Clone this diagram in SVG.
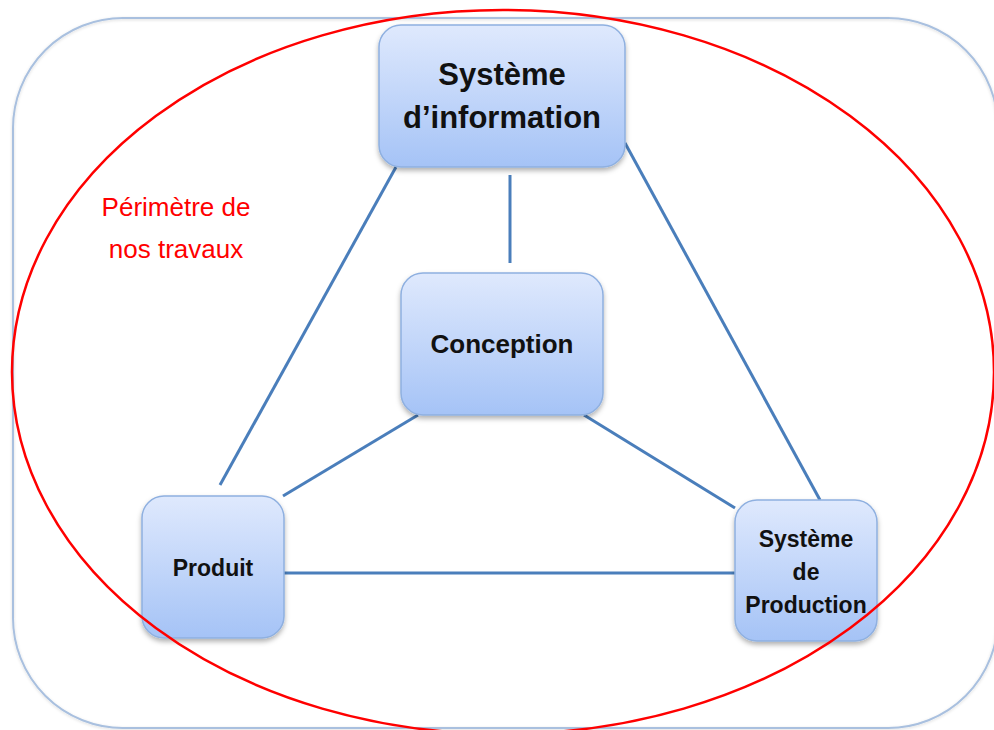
<svg xmlns="http://www.w3.org/2000/svg" width="994" height="730" viewBox="0 0 994 730">
  <defs>
    <linearGradient id="nodeFill" x1="0" y1="0" x2="0" y2="1">
      <stop offset="0" stop-color="#dfe9fd"/>
      <stop offset="1" stop-color="#a5c3f6"/>
    </linearGradient>
    <filter id="shadow" x="-10%" y="-10%" width="120%" height="125%">
      <feDropShadow dx="0" dy="3" stdDeviation="2.5" flood-color="#000" flood-opacity="0.3"/>
    </filter>
    <filter id="soft" x="-5%" y="-5%" width="110%" height="110%">
      <feDropShadow dx="0" dy="1" stdDeviation="1.5" flood-color="#000" flood-opacity="0.15"/>
    </filter>
  </defs>
  <style>
    .node { fill: url(#nodeFill); stroke: #8fb0e0; stroke-width: 1.5; filter: url(#shadow); }
    .label { font-family: "Liberation Sans", Arial, sans-serif; font-weight: bold; fill: #111; text-anchor: middle; }
    .conn { stroke: #4a7ebb; stroke-width: 3; fill: none; stroke-linecap: butt; }
    .note { font-family: "Liberation Sans", Arial, sans-serif; font-size: 26px; fill: #ff0000; text-anchor: middle; }
  </style>
  <rect width="994" height="730" fill="#ffffff"/>
  <rect id="frame" x="13" y="18" width="985" height="710" rx="110" ry="110" fill="none" stroke="#a9c0df" stroke-width="2" filter="url(#soft)"/>

  <g id="connectors">
    <line class="conn" x1="396" y1="167" x2="220" y2="485"/>
    <line class="conn" x1="625" y1="143" x2="820" y2="500"/>
    <line class="conn" x1="510" y1="175" x2="510" y2="263"/>
    <line class="conn" x1="418" y1="415" x2="283" y2="496"/>
    <line class="conn" x1="584" y1="415" x2="735" y2="508"/>
    <line class="conn" x1="284" y1="573" x2="735" y2="573"/>
  </g>

  <g id="node-si">
    <rect class="node" x="379" y="25" width="246" height="142" rx="22"/>
    <text class="label" font-size="31" x="502" y="85">Système</text>
    <text class="label" font-size="31" x="502" y="128">d’information</text>
  </g>
  <g id="node-conception">
    <rect class="node" x="401" y="273" width="202" height="142" rx="22"/>
    <text class="label" font-size="26" x="502" y="353">Conception</text>
  </g>
  <g id="node-produit">
    <rect class="node" x="142" y="496" width="142" height="142" rx="22"/>
    <text class="label" font-size="23" x="213" y="576">Produit</text>
  </g>
  <g id="node-production">
    <rect class="node" x="735" y="500" width="142" height="141" rx="22"/>
    <text class="label" font-size="23" x="806" y="547">Système</text>
    <text class="label" font-size="23" x="806" y="580">de</text>
    <text class="label" font-size="23" x="806" y="613">Production</text>
  </g>

  <g id="perimetre">
    <ellipse cx="503" cy="372" rx="491" ry="362" fill="none" stroke="#ff0000" stroke-width="2.5"/>
    <text class="note" x="176" y="216">Périmètre de</text>
    <text class="note" x="176" y="258">nos travaux</text>
  </g>
</svg>
